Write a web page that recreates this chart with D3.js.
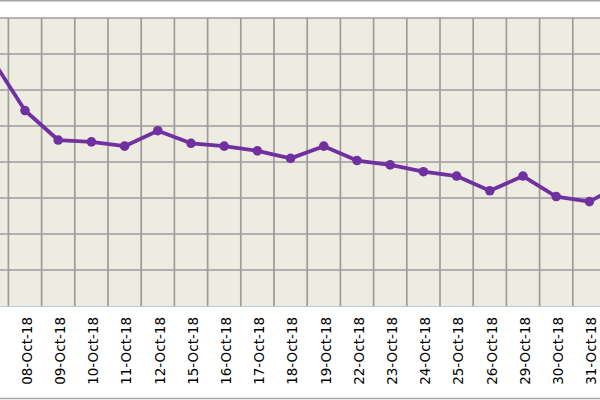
<!DOCTYPE html>
<html>
<head>
<meta charset="utf-8">
<script src="https://cdn.jsdelivr.net/npm/d3@7"></script>
<style>
  body { margin: 0; background: #fff; }
  svg { display: block; }
</style>
</head>
<body>
<div id="chart"></div>
<script>
// data (y axis labels are cut off, values in grid units x10)
const dates = ["05-Oct-18", "08-Oct-18", "09-Oct-18", "10-Oct-18", "11-Oct-18", "12-Oct-18",
  "15-Oct-18", "16-Oct-18", "17-Oct-18", "18-Oct-18", "19-Oct-18", "22-Oct-18", "23-Oct-18",
  "24-Oct-18", "25-Oct-18", "26-Oct-18", "29-Oct-18", "30-Oct-18", "31-Oct-18", "01-Nov-18"]
const values = [68.7, 54.3, 46.1, 45.6, 44.4, 48.7, 45.2, 44.4, 43.1, 41.0, 44.4, 40.4, 39.2,
  37.3, 36.1, 32.0, 36.1, 30.4, 29.0, 33.9]
const yTicks = [0, 10, 20, 30, 40, 50, 60, 70, 80]
// first and last day fall outside the window, so their labels are not drawn
const visibleDates = dates.slice(1, -1)

function drawChart() {
  const width = 600
  const height = 400

  // the plot is wider than the window
  const step = 33.2
  const plotLeft = 25 - 1.5 * step
  const plotRight = plotLeft + dates.length * step
  const plotTop = 18
  const plotBottom = 306

  const data = dates.map((d, i) => ({ date: d, value: values[i] }))

  const svg = d3.select("#chart")
    .append("svg")
    .attr("width", width)
    .attr("height", height)

  const xScale = d3.scaleBand()
    .domain(dates)
    .range([plotLeft, plotRight])
    .padding(0)

  const yScale = d3.scaleLinear()
    .domain([0, 80])
    .range([plotBottom, plotTop])

  // outer frame lines
  svg.append("line")
    .attr("x1", 0).attr("x2", width)
    .attr("y1", 0.75).attr("y2", 0.75)
    .attr("stroke", "#a6a6a6")
    .attr("stroke-width", 1.5)

  svg.append("line")
    .attr("x1", 0).attr("x2", width)
    .attr("y1", 398.5).attr("y2", 398.5)
    .attr("stroke", "#a6a6a6")
    .attr("stroke-width", 1.5)

  // plot background
  svg.append("rect")
    .attr("x", plotLeft)
    .attr("y", plotTop)
    .attr("width", plotRight - plotLeft)
    .attr("height", plotBottom - plotTop)
    .attr("fill", "#eeece1")

  // horizontal grid
  svg.append("g")
    .selectAll("line")
    .data(yTicks.slice(1))
    .join("line")
    .attr("x1", plotLeft)
    .attr("x2", plotRight)
    .attr("y1", d => yScale(d))
    .attr("y2", d => yScale(d))
    .attr("stroke", "#9c9c9c")
    .attr("stroke-width", 1.7)

  // vertical grid at band edges
  svg.append("g")
    .selectAll("line")
    .data(dates.slice(1))
    .join("line")
    .attr("x1", d => xScale(d))
    .attr("x2", d => xScale(d))
    .attr("y1", plotTop)
    .attr("y2", plotBottom)
    .attr("stroke", "#9c9c9c")
    .attr("stroke-width", 1.7)

  // x axis
  const xAxis = d3.axisBottom(xScale)
    .tickValues(visibleDates)
    .tickSize(0)

  const xg = svg.append("g")
    .attr("transform", `translate(0, ${plotBottom})`)
    .call(xAxis)

  xg.select(".domain")
    .attr("stroke", "#b9cde5")
    .attr("stroke-width", 1.2)

  xg.selectAll("text")
    .attr("transform", "rotate(-90)")
    .attr("x", -11)
    .attr("y", 2)
    .attr("dy", "0.35em")
    .attr("text-anchor", "end")
    .attr("font-family", "Verdana, 'DejaVu Sans', sans-serif")
    .attr("font-size", "13.5px")
    .attr("fill", "#000")

  // line
  const xCenter = d => xScale(d.date) + xScale.bandwidth() / 2

  const lineGenerator = d3.line()
    .x(xCenter)
    .y(d => yScale(d.value))

  svg.append("path")
    .datum(data)
    .attr("d", lineGenerator)
    .attr("fill", "none")
    .attr("stroke", "#7030a0")
    .attr("stroke-width", 3.8)
    .attr("stroke-linejoin", "round")

  svg.append("g")
    .selectAll("circle")
    .data(data)
    .join("circle")
    .attr("cx", xCenter)
    .attr("cy", d => yScale(d.value))
    .attr("r", 4.8)
    .attr("fill", "#7030a0")
}

drawChart()
</script>
</body>
</html>
